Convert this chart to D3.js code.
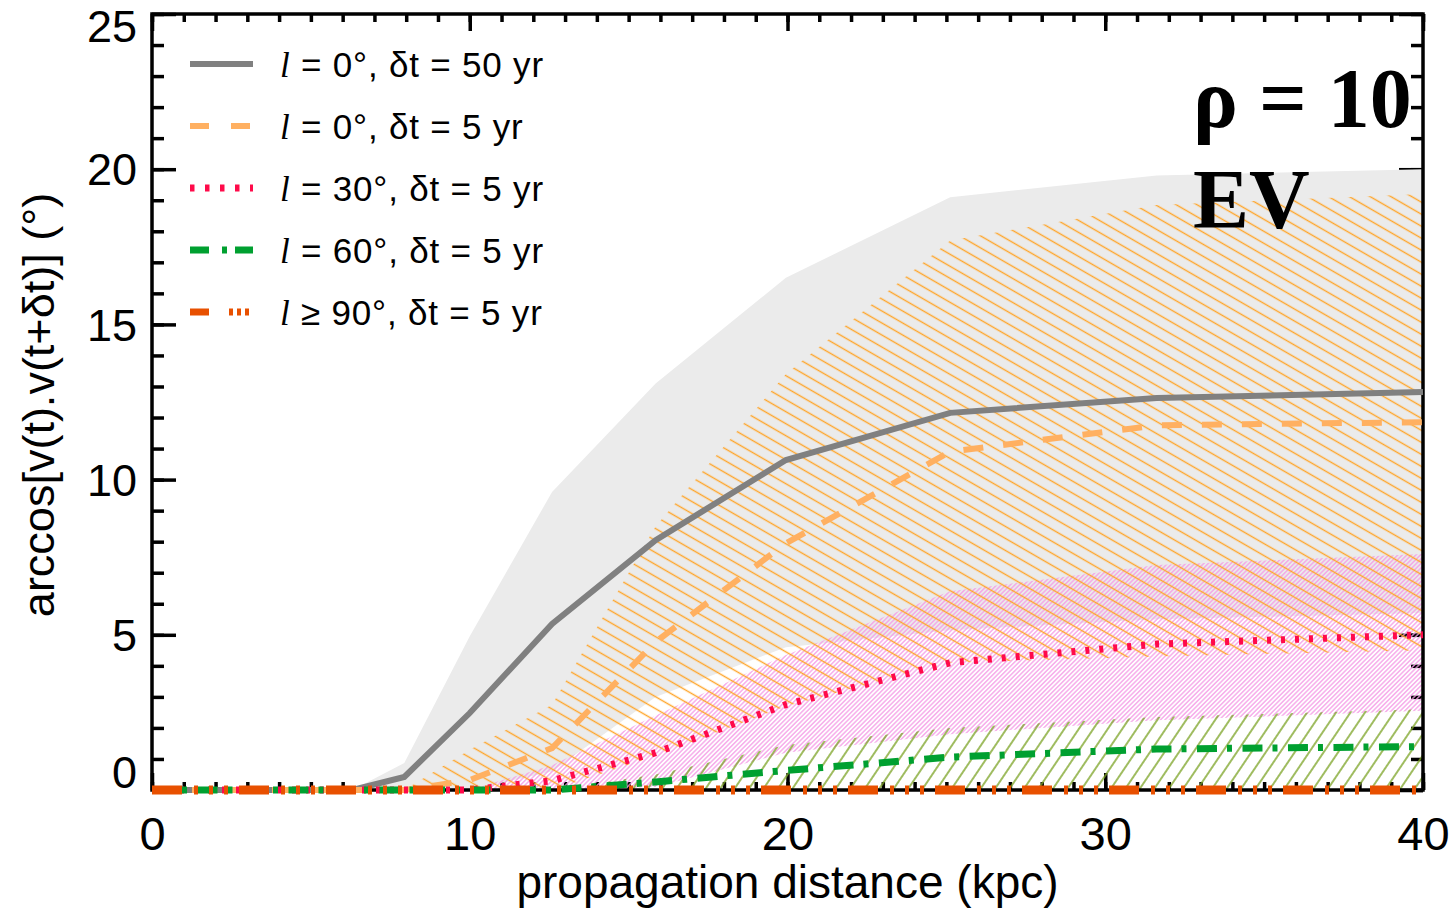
<!DOCTYPE html>
<html><head><meta charset="utf-8">
<script src="https://cdn.jsdelivr.net/npm/d3@7"></script>
<style>body{margin:0;background:#fff;} svg{display:block;}</style>
</head><body>
<svg id="chart" width="1455" height="912"></svg>
<script>
// ---- data ----
const distance = [0, 6.31, 7.94, 10.0, 12.59, 15.85, 19.95, 25.12, 31.62, 40];

// l = 0 deg, dt = 50 yr (grey)
const mean_l0_dt50  = [0, 0, 0.42, 2.48, 5.35, 8.05, 10.63, 12.15, 12.63, 12.82];
const upper_l0_dt50 = [0, 0, 0.87, 4.95, 9.6, 13.1, 16.5, 19.1, 19.8, 20.0];
const lower_l0_dt50 = [0, 0, 0, 0, 0.6, 3.0, 4.6, 5.15, 5.5, 5.7];

// l = 0 deg, dt = 5 yr (orange)
const mean_l0_dt5  = [0, 0, 0, 0.32, 1.35, 4.77, 7.95, 10.9, 11.75, 11.85];
const upper_l0_dt5 = [0, 0, 0, 1.3, 2.75, 8.5, 13.4, 17.7, 18.85, 19.2];
const lower_l0_dt5 = [0, 0, 0, 0, 0, 1.1, 2.7, 4.1, 4.3, 4.5];

// l = 30 deg, dt = 5 yr (pink/red)
const mean_l30_dt5  = [0, 0, 0, 0, 0.3, 1.2, 2.75, 4.1, 4.7, 5.0];
const upper_l30_dt5 = [0, 0, 0, 0, 0.8, 2.4, 4.35, 6.4, 7.25, 7.6];
const lower_l30_dt5 = [0, 0, 0, 0, 0, 0.1, 1.2, 1.8, 2.25, 2.55];

// l = 60 deg, dt = 5 yr (green)
const mean_l60_dt5  = [0, 0, 0, 0, 0, 0.26, 0.63, 1.06, 1.32, 1.4];
const upper_l60_dt5 = [0, 0, 0, 0, 0, 0.5, 1.45, 2.0, 2.35, 2.6];
const lower_l60_dt5 = [0, 0, 0, 0, 0, 0, 0, 0, 0, 0];

// l >= 90 deg, dt = 5 yr (dark orange)
const mean_l90_dt5 = [0, 0, 0, 0, 0, 0, 0, 0, 0, 0];

const xTicks = [0, 10, 20, 30, 40];
const yTicks = [0, 5, 10, 15, 20, 25];
const legendLabels = [
  ["l", " = 0°, δt = 50 yr"],
  ["l", " = 0°, δt = 5 yr"],
  ["l", " = 30°, δt = 5 yr"],
  ["l", " = 60°, δt = 5 yr"],
  ["l", " ≥ 90°, δt = 5 yr"]
];
const xTitle = "propagation distance (kpc)";
const yTitle = "arccos[v(t).v(t+δt)] (°)";
const annotation = ["ρ = 10", "EV"];

// ---- drawing ----
const svg = d3.select("#chart");
svg.append("rect").attr("width", 1455).attr("height", 912).attr("fill", "#fff");

const x = d3.scaleLinear().domain([0, 40]).range([152, 1423]);
const y = d3.scaleLinear().domain([0, 25]).range([790, 14]);

const defs = svg.append("defs");
defs.append("clipPath").attr("id", "plotClip").append("rect")
  .attr("x", x(0)).attr("y", y(25)).attr("width", x(40) - x(0)).attr("height", y(0) - y(25));

function hatch(id, spacing, angle, color, width) {
  const p = defs.append("pattern").attr("id", id)
    .attr("patternUnits", "userSpaceOnUse")
    .attr("width", 40).attr("height", spacing)
    .attr("patternTransform", `rotate(${angle})`);
  p.append("line").attr("x1", 0).attr("x2", 40)
    .attr("y1", spacing / 2).attr("y2", spacing / 2)
    .attr("stroke", color).attr("stroke-width", width);
}
hatch("hOrange", 10.4, 30, "#ffa52a", 1.3);
hatch("hPink", 3.2, -45, "#f59ae6", 1.1);
hatch("hGreen", 12, -56, "#7ea62a", 1.3);

const fontSans = "'Liberation Sans', Arial, Helvetica, sans-serif";

// ticks
const tickG = svg.append("g").attr("class", "ticks");
function styleAxis(g, size) {
  g.select(".domain").remove();
  g.selectAll(".tick line").attr("stroke", "#000").attr("stroke-width", 3.5);
  g.selectAll("text").attr("font-family", fontSans).attr("font-size", size || 45).attr("fill", "#000");
}
const yMinor = d3.range(0, 26, 1);
const xMinor = d3.range(0, 41, 1);
// left
tickG.append("g").attr("transform", `translate(${x(0)},0)`)
  .call(d3.axisLeft(y).tickValues(yMinor).tickSizeInner(-12).tickSizeOuter(0).tickFormat("")).call(styleAxis);
const leftMajor = tickG.append("g").attr("transform", `translate(${x(0)},0)`)
  .call(d3.axisLeft(y).tickValues(yTicks).tickSizeInner(-24).tickSizeOuter(0).tickPadding(15).tickFormat(d3.format("d")))
  .call(g => styleAxis(g, 45));
leftMajor.selectAll(".tick text").attr("dy", d => d === 0 ? "-0.06em" : (d === 25 ? "0.62em" : "0.35em"));
// right
tickG.append("g").attr("transform", `translate(${x(40)},0)`)
  .call(d3.axisLeft(y).tickValues(yMinor).tickSizeInner(12).tickSizeOuter(0).tickFormat("")).call(styleAxis);
tickG.append("g").attr("transform", `translate(${x(40)},0)`)
  .call(d3.axisLeft(y).tickValues(yTicks).tickSizeInner(24).tickSizeOuter(0).tickFormat("")).call(styleAxis);
// bottom
tickG.append("g").attr("transform", `translate(0,${y(0)})`)
  .call(d3.axisBottom(x).tickValues(xMinor).tickSizeInner(-8).tickSizeOuter(0).tickFormat("")).call(styleAxis);
tickG.append("g").attr("transform", `translate(0,${y(0)})`)
  .call(d3.axisBottom(x).tickValues(xTicks).tickSizeInner(-17).tickSizeOuter(0).tickPadding(27).tickFormat(d3.format("d")))
  .call(g => styleAxis(g, 47));
// top
tickG.append("g").attr("transform", `translate(0,${y(25)})`)
  .call(d3.axisTop(x).tickValues(xMinor).tickSizeInner(-8).tickSizeOuter(0).tickFormat("")).call(styleAxis);
tickG.append("g").attr("transform", `translate(0,${y(25)})`)
  .call(d3.axisTop(x).tickValues(xTicks).tickSizeInner(-17).tickSizeOuter(0).tickFormat("")).call(styleAxis);

// bands
function rows(lo, hi) { return distance.map((d, i) => ({ x: d, lo: lo[i], hi: hi[i] })); }
const area = d3.area().x(d => x(d.x)).y0(d => y(d.lo)).y1(d => y(d.hi));
const bandG = svg.append("g").attr("clip-path", "url(#plotClip)");
bandG.append("path").datum(rows(lower_l0_dt50, upper_l0_dt50)).attr("d", area).attr("fill", "#ebebeb");
bandG.append("path").datum(rows(lower_l30_dt5, upper_l30_dt5)).attr("d", area).attr("fill", "url(#hPink)");
bandG.append("path").datum(rows(lower_l60_dt5, upper_l60_dt5)).attr("d", area).attr("fill", "url(#hGreen)");
bandG.append("path").datum(rows(lower_l0_dt5, upper_l0_dt5)).attr("d", area).attr("fill", "url(#hOrange)");

// frame
svg.append("rect").attr("x", x(0)).attr("y", y(25)).attr("width", x(40) - x(0)).attr("height", y(0) - y(25))
  .attr("fill", "none").attr("stroke", "#000").attr("stroke-width", 3.5);

// lines
const seriesStyles = [
  { vals: mean_l0_dt50, color: "#808080", w: 6, dash: null, ldash: null },
  { vals: mean_l0_dt5, color: "#ffb061", w: 6, dash: "20 20", ldash: "19 22" },
  { vals: mean_l30_dt5, color: "#ff0a4a", w: 7, dash: "4 10", ldash: "4.5 10.5" },
  { vals: mean_l60_dt5, color: "#00a030", w: 7, dash: "20 10 5 10.5", ldash: "19 13 5 8" },
  { vals: mean_l90_dt5, color: "#e85000", w: 9, dash: "30 12 4 11 4 11 4 11", ldash: "19 20 4 4 4 4 4 20" }
];
const line = d3.line().x(d => x(d.x)).y(d => y(d.v));
const lineG = svg.append("g");
seriesStyles.forEach(s => {
  lineG.append("path").datum(distance.map((d, i) => ({ x: d, v: s.vals[i] })))
    .attr("d", line).attr("fill", "none").attr("stroke", s.color).attr("stroke-width", s.w)
    .attr("stroke-linejoin", "miter").attr("stroke-dasharray", s.dash);
});

// legend
const legG = svg.append("g");
legendLabels.forEach((lab, i) => {
  const s = seriesStyles[i];
  const cy = 64 + i * 62;
  legG.append("line").attr("x1", 190).attr("x2", 253).attr("y1", cy).attr("y2", cy)
    .attr("stroke", s.color).attr("stroke-width", Math.min(s.w, 7)).attr("stroke-dasharray", s.ldash);
  const t = legG.append("text").attr("x", 280).attr("y", cy + 13)
    .attr("font-family", fontSans).attr("font-size", 35).attr("letter-spacing", 0.8).attr("fill", "#000");
  t.append("tspan").attr("font-family", "'Liberation Serif', 'Times New Roman', serif").attr("font-style", "italic").text(lab[0]);
  t.append("tspan").text(lab[1]);
});

// axis titles
svg.append("text").attr("x", x(20)).attr("y", 898).attr("text-anchor", "middle")
  .attr("font-family", fontSans).attr("font-size", 46).text(xTitle);
svg.append("text").attr("transform", "translate(54,405) rotate(-90)").attr("text-anchor", "middle")
  .attr("font-family", fontSans).attr("font-size", 45).text(yTitle);

// annotation
annotation.forEach((a, i) => {
  svg.append("text").attr("x", 1193).attr("y", 127 + i * 101)
    .attr("font-family", "'Liberation Serif', 'Times New Roman', serif").attr("font-weight", "bold")
    .attr("font-size", 84).attr("fill", "#000").text(a);
});
</script>
</body></html>
